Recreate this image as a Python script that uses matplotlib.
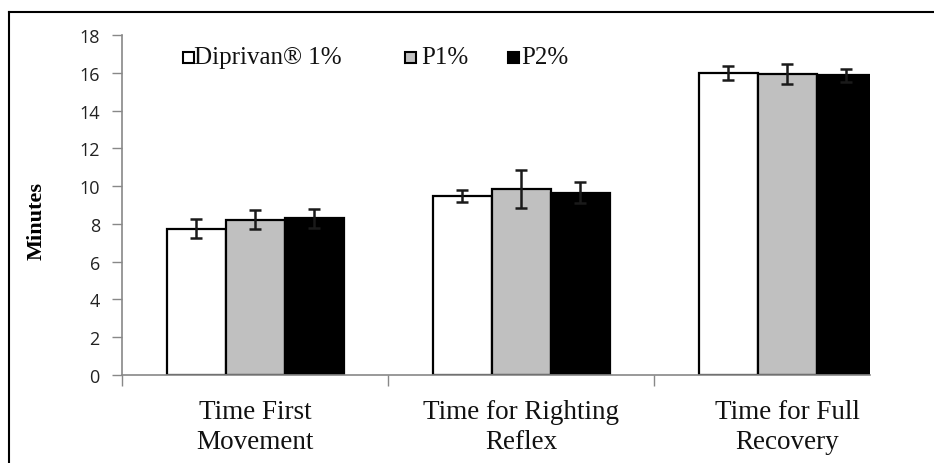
import matplotlib
matplotlib.use("Agg")
import matplotlib.pyplot as plt
import numpy as np
from matplotlib.lines import Line2D
from matplotlib.patches import Rectangle

categories = ["Time First\nMovement", "Time for Righting\nReflex", "Time for Full\nRecovery"]
series_names = ["Diprivan\u00ae 1%", "P1%", "P2%"]
diprivan = [7.75, 9.48, 16.0]
p1 = [8.22, 9.84, 15.94]
p2 = [8.3, 9.65, 15.86]
diprivan_err = [0.5, 0.31, 0.36]
p1_err = [0.5, 1.02, 0.52]
p2_err = [0.5, 0.55, 0.35]
yticks = [0, 2, 4, 6, 8, 10, 12, 14, 16, 18]

values = [diprivan, p1, p2]
errors = [diprivan_err, p1_err, p2_err]
colors = ["white", "#c0c0c0", "black"]

W, H = 934, 464
fig = plt.figure(figsize=(W/100, H/100), dpi=100)
ax = fig.add_axes([122/W, 1-376/H, (870-122)/W, (376-36)/H])

x = np.arange(len(categories))
w = 59/266
offsets = [-w, 0, w]
for vals, col, off, name in zip(values, colors, offsets, series_names):
    ax.bar(x + off, vals, width=w, color=col, edgecolor="black", linewidth=1.6,
           label=name, zorder=2)
for vals, errs, off in zip(values, errors, offsets):
    ax.errorbar(x + off, vals, yerr=errs, fmt="none", ecolor="#1a1a1a",
                elinewidth=1.8, capsize=4.5, capthick=1.8, zorder=3)

ax.set_ylim(0, 18)
ax.set_xlim(-0.5, 2.5 - 50/266)
ax.set_yticks(yticks)
ax.set_yticklabels([str(t) for t in yticks], fontsize=13, family="Open Sans", color="#222222")
ax.set_xticks([-0.5, 0.5, 1.5])
ax.set_xticklabels([])
ax.tick_params(axis="x", length=8, color="#888888", width=1)
ax.tick_params(axis="y", length=7, color="#888888", width=1, pad=9)
ax.set_xticks(x, minor=True)
ax.set_xticklabels(categories, minor=True, fontsize=19.5, family="Liberation Serif",
                   linespacing=1.3, color="#111111")
ax.tick_params(axis="x", which="minor", length=0, pad=17)

for s in ["top", "right"]:
    ax.spines[s].set_visible(False)
for s in ["left", "bottom"]:
    ax.spines[s].set_color("#888888")
    ax.spines[s].set_linewidth(1.2)

ax.set_ylabel("Minutes", fontsize=16, family="Liberation Serif", fontweight="bold")
ax.yaxis.set_label_coords((47-122)/(870-122), 0.455)

# legend drawn manually at its reference positions
sq_left = [183, 405, 508]
txt_left = [194, 421, 521]
leg_y = 58
for i, name in enumerate(series_names):
    fig.add_artist(Rectangle((sq_left[i]/W, 1-(leg_y+5.5)/H), 11/W, 11/H,
                             transform=fig.transFigure, facecolor=colors[i],
                             edgecolor="black", linewidth=1.5))
    fig.text(txt_left[i]/W, 1-leg_y/H, name, family="Liberation Serif", fontsize=18,
             va="center", ha="left", color="#111111")

# outer frame (top and left lines visible)
fig.add_artist(Line2D([9/W, 1], [1-13/H, 1-13/H], transform=fig.transFigure,
                      color="black", linewidth=1.5))
fig.add_artist(Line2D([9/W, 9/W], [0, 1-13/H], transform=fig.transFigure,
                      color="black", linewidth=1.5))

fig.savefig("out.png", dpi=100, facecolor="white")
